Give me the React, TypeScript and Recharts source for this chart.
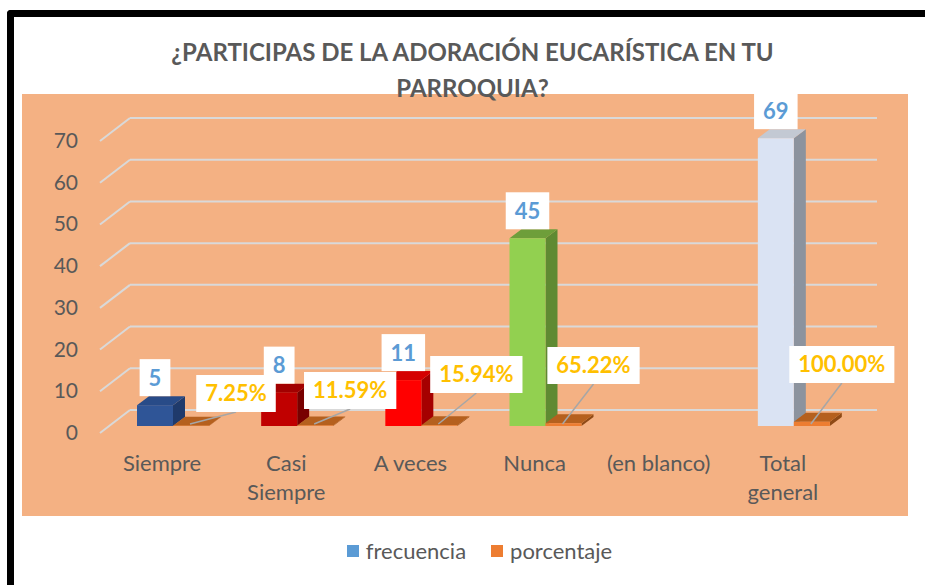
import React from 'react';
import { BarChart, Bar, XAxis, YAxis, CartesianGrid, Cell, LabelList } from 'recharts';

// ---------- data ----------
const categories = ['Siempre', 'Casi Siempre', 'A veces', 'Nunca', '(en blanco)', 'Total general'];
const tickLabels = [['Siempre'], ['Casi', 'Siempre'], ['A veces'], ['Nunca'], ['(en blanco)'], ['Total', 'general']];
const frecuencia = [5, 8, 11, 45, null, 69];
const porcentaje = [0.0725, 0.1159, 0.1594, 0.6522, null, 1.0];
const yTicks = [0, 10, 20, 30, 40, 50, 60, 70];
const seriesNames = ['frecuencia', 'porcentaje'];
const titleLines = ['¿PARTICIPAS DE LA ADORACIÓN EUCARÍSTICA EN TU', 'PARROQUIA?'];

const data = categories.map((name, i) => ({ name, frecuencia: frecuencia[i], porcentaje: porcentaje[i] }));

// ---------- styles ----------
const FONT = 'Lato, "Open Sans", sans-serif';
const TEXT_GREY = '#595959';
const FREQ_FRONT = ['#2F5597', '#C00000', '#FF0000', '#92D050', '#5B9BD5', '#DAE3F3'];
const FREQ_TOP = ['#284B88', '#A20000', '#D50000', '#6E9E3A', '#4A85BA', '#C3C9D3'];
const FREQ_SIDE = ['#1F3A6B', '#780000', '#A50000', '#5F8A32', '#3D6F9C', '#8C939E'];
const PCT_FRONT = '#ED7D31';
const PCT_TOP = '#B5601E';
const PCT_SIDE = '#8F4A16';
const LEGEND_COLORS = ['#5B9BD5', '#ED7D31'];
const PCT_LABEL_NUDGE = [[45, 14], [35, 17], [37, 33], [30, 42], [0, 0], [30, 43]];
const DX = 12;
const DY = 9;
const LABEL_SIZE = 22;
const LABEL_FONT = `bold ${LABEL_SIZE}px Lato`;
const AXIS_SIZE = 22;

const W = 925;
const H = 585;
const PLOT_LEFT = 111;
const PLOT_TOP = 134;
const PLOT_BOTTOM = 426;
const PLOT_RIGHT = 856;

let ctx: any = null;
function measure(text: string, font: string) {
  if (!ctx) ctx = document.createElement('canvas').getContext('2d');
  ctx.font = font;
  return ctx.measureText(text).width;
}

function Box3D({ x, y, width, height, front, top, side }: any) {
  const t = Math.min(y, y + height);
  const b = Math.max(y, y + height);
  const r = x + width;
  return (
    <g>
      <polygon points={`${r},${t} ${r + DX},${t - DY} ${r + DX},${b - DY} ${r},${b}`} fill={side} />
      <polygon points={`${x},${t} ${x + DX},${t - DY} ${r + DX},${t - DY} ${r},${t}`} fill={top} />
      <rect x={x} y={t} width={width} height={b - t} fill={front} />
    </g>
  );
}

const freqShape = (p: any) => {
  const i = categories.indexOf(p.payload?.name);
  if (i < 0 || frecuencia[i] == null) return <g />;
  return <Box3D x={p.x} y={p.y} width={p.width} height={p.height} front={FREQ_FRONT[i]} top={FREQ_TOP[i]} side={FREQ_SIDE[i]} />;
};

const pctShape = (p: any) => {
  const i = categories.indexOf(p.payload?.name);
  if (i < 0 || porcentaje[i] == null) return <g />;
  return <Box3D x={p.x} y={p.y} width={p.width} height={p.height} front={PCT_FRONT} top={PCT_TOP} side={PCT_SIDE} />;
};

function vbOf(p: any) {
  const vb = p.viewBox && p.viewBox.width != null ? p.viewBox : p;
  const top = Math.min(vb.y, vb.y + vb.height);
  const bottom = Math.max(vb.y, vb.y + vb.height);
  return { x: vb.x, width: vb.width, top, bottom };
}

function LabelBox({ cx, bottom, txt, color }: any) {
  const w = measure(txt, LABEL_FONT) + 18;
  const h = 37;
  return (
    <g>
      <rect x={cx - w / 2} y={bottom - h} width={w} height={h} fill="#FFFFFF" />
      <text x={cx} y={bottom - h / 2 + LABEL_SIZE * 0.36} textAnchor="middle" fill={color}
        style={{ fontFamily: FONT, fontWeight: 700, fontSize: LABEL_SIZE }}>{txt}</text>
    </g>
  );
}

const freqLabel = (p: any) => {
  if (p.value == null) return null;
  const { x, width, top } = vbOf(p);
  return <LabelBox cx={x + width / 2} bottom={top - DY} txt={String(p.value)} color="#5B9BD5" />;
};

const pctLabel = (p: any) => {
  if (p.value == null) return null;
  const i = porcentaje.indexOf(Number(p.value));
  const { x, width, bottom } = vbOf(p);
  const nudge = PCT_LABEL_NUDGE[i] || [30, 30];
  const bcx = x + width / 2;
  const cx = bcx + nudge[0];
  const by = bottom - nudge[1];
  const txt = (Number(p.value) * 100).toFixed(2) + '%';
  return (
    <g>
      <line x1={bcx - 1} y1={bottom - 2} x2={cx} y2={by} stroke="#A6A6A6" strokeWidth={1.5} />
      <LabelBox cx={cx} bottom={by} txt={txt} color="#FFC000" />
    </g>
  );
};

const gridLine = (p: any) => {
  const y = p.y1;
  return (
    <g key={p.key ?? `g-${y}`}>
      <line x1={p.x1 - 11} y1={y + 7} x2={p.x1 + 19} y2={y - 16} stroke="#D9D9D9" strokeWidth={2} />
      <line x1={p.x1 + 19} y1={y - 16} x2={p.x2 + 21} y2={y - 16} stroke="#D9D9D9" strokeWidth={2} />
    </g>
  );
};

const yTick = (p: any) => (
  <text x={PLOT_LEFT - 33} y={p.y + 14} textAnchor="end" fill={TEXT_GREY}
    style={{ fontFamily: FONT, fontSize: 21 }}>{p.payload.value}</text>
);

const xTick = (p: any) => {
  const i = categories.indexOf(p.payload.value);
  const lines = tickLabels[i] || [p.payload.value];
  return (
    <text x={p.x - 11} y={470} textAnchor="middle" fill={TEXT_GREY} style={{ fontFamily: FONT, fontSize: AXIS_SIZE }}>
      {lines.map((l: string, k: number) => (
        <tspan key={k} x={p.x - 11} y={471 + k * 29}>{l}</tspan>
      ))}
    </text>
  );
};

export default function App() {
  return (
    <div style={{ position: 'fixed', left: 0, top: 0, width: W, height: H, background: '#FFFFFF', overflow: 'hidden' }}>
      <div style={{ position: 'absolute', left: 7, top: 10, width: 960, height: 640, borderLeft: '7px solid #000', borderTop: '7px solid #000', borderTopLeftRadius: 4 }} />
      <div style={{ position: 'absolute', left: 22, top: 94, width: 886, height: 422, background: '#F4B183' }} />
      <svg width={W} height={H} style={{ position: 'absolute', left: 0, top: 0 }}>
        {titleLines.map((t, k) => (
          <text key={k} x={472.5} y={61 + k * 36} textAnchor="middle" fill={TEXT_GREY}
            style={{ fontFamily: FONT, fontWeight: 700, fontSize: 24 }}>{t}</text>
        ))}
      </svg>
      <div style={{ position: 'absolute', left: 0, top: 0 }}>
        <BarChart width={W} height={H} data={data} barGap={0} barSize={36}
          margin={{ top: PLOT_TOP, right: W - PLOT_RIGHT, left: 22, bottom: H - PLOT_BOTTOM - 60 }}>
          <CartesianGrid vertical={false} horizontal={gridLine} />
          <XAxis dataKey="name" height={60} axisLine={false} tickLine={false} tick={xTick} interval={0} />
          <YAxis width={PLOT_LEFT - 22} domain={[0, 70]} ticks={yTicks} axisLine={false} tickLine={false} tick={yTick} />
          <Bar dataKey="frecuencia" name={seriesNames[0]} fill={LEGEND_COLORS[0]} shape={freqShape} isAnimationActive={false}>
            {data.map((d, i) => <Cell key={i} fill={FREQ_FRONT[i]} />)}
            <LabelList dataKey="frecuencia" content={freqLabel} />
          </Bar>
          <Bar dataKey="porcentaje" name={seriesNames[1]} fill={LEGEND_COLORS[1]} shape={pctShape} isAnimationActive={false}>
            <LabelList dataKey="porcentaje" content={pctLabel} />
          </Bar>
        </BarChart>
      </div>
      <div style={{ position: 'absolute', top: 537, left: 0, width: W, display: 'flex', justifyContent: 'center', paddingLeft: 34, boxSizing: 'border-box', fontFamily: FONT, fontSize: AXIS_SIZE, color: TEXT_GREY }}>
        {seriesNames.map((n, k) => (
          <div key={k} style={{ display: 'flex', alignItems: 'center', marginRight: k === 0 ? 25 : 0 }}>
            <span style={{ display: 'inline-block', width: 12, height: 12, background: LEGEND_COLORS[k], marginRight: 7 }} />
            <span>{n}</span>
          </div>
        ))}
      </div>
    </div>
  );
}
